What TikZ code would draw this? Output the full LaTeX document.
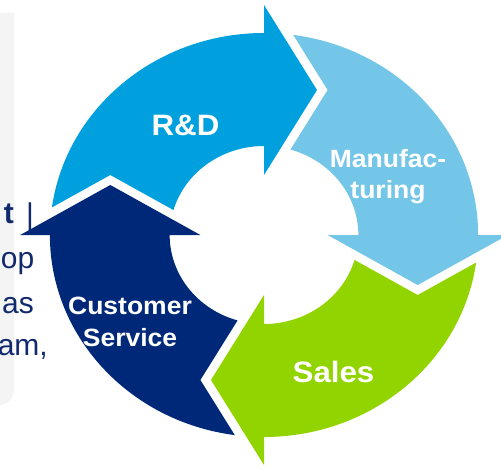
\documentclass[tikz,border=0pt]{standalone}
\usepackage{fontspec}
\setmainfont{Liberation Sans}
\definecolor{rdblue}{HTML}{00A0DE}
\definecolor{mfgblue}{HTML}{73C6E7}
\definecolor{salesgreen}{HTML}{92D400}
\definecolor{csnavy}{HTML}{002878}
\definecolor{textnavy}{HTML}{112A6E}
\definecolor{panelgray}{HTML}{F4F4F4}
\tikzset{
  lbl/.style={text=white, inner sep=0pt, align=center, xscale=1.06},
  sidetext/.style={text=textnavy, inner sep=0pt, font=\fontsize{30}{44}\selectfont},
}
\begin{document}
\begin{tikzpicture}[x=1pt,y=1pt]
\useasboundingbox (0,0) rectangle (501,-469);
\clip (0,0) rectangle (501,-469);
% left panel
\fill[panelgray] (-1,-13) -- (14,-13) -- (14,-390) arc[start angle=0,end angle=-90,radius=15pt] -- (-1,-405) -- cycle;
\node[sidetext, anchor=base east] (t1) at (14,-223) {\textbf{t}};
\node[sidetext, anchor=base] (bar) at (30,-224) {|};
\node[sidetext, anchor=base east] (t2) at (34.5,-268) {op};
\node[sidetext, anchor=base east] (t3) at (34,-313) {as};
\node[sidetext, anchor=base east] (t4) at (48,-355) {am,};
% cycle arrows
\foreach \c [count=\i from 0] in {rdblue,mfgblue,salesgreen,csnavy}{
  \begin{scope}[shift={(264,-235)}, xscale=1.06, rotate=-90*\i]
    \fill[\c] (172.15:202pt) arc[start angle=172.15, end angle=90, radius=202pt]
      -- (0,230) -- (50,145) -- (0,60) -- (0,89)
      arc[start angle=90, end angle=163.71, radius=89pt]
      -- (-145,60) -- cycle;
  \end{scope}
}
% labels (base anchor = baseline of last line)
\node[lbl, font=\fontsize{29.5}{32}\selectfont\bfseries, anchor=base] (rd) at (185.5,-135) {R\&D};
\node[lbl, font=\fontsize{25}{31}\selectfont\bfseries, anchor=base] (mfg) at (388,-198) {Manufac-\\turing};
\node[lbl, font=\fontsize{29.5}{32}\selectfont\bfseries, anchor=base] (sales) at (333.5,-382) {Sales};
\node[lbl, font=\fontsize{25}{32}\selectfont\bfseries, anchor=base] (cs) at (130,-346) {Customer\\Service};
\end{tikzpicture}
\end{document}
